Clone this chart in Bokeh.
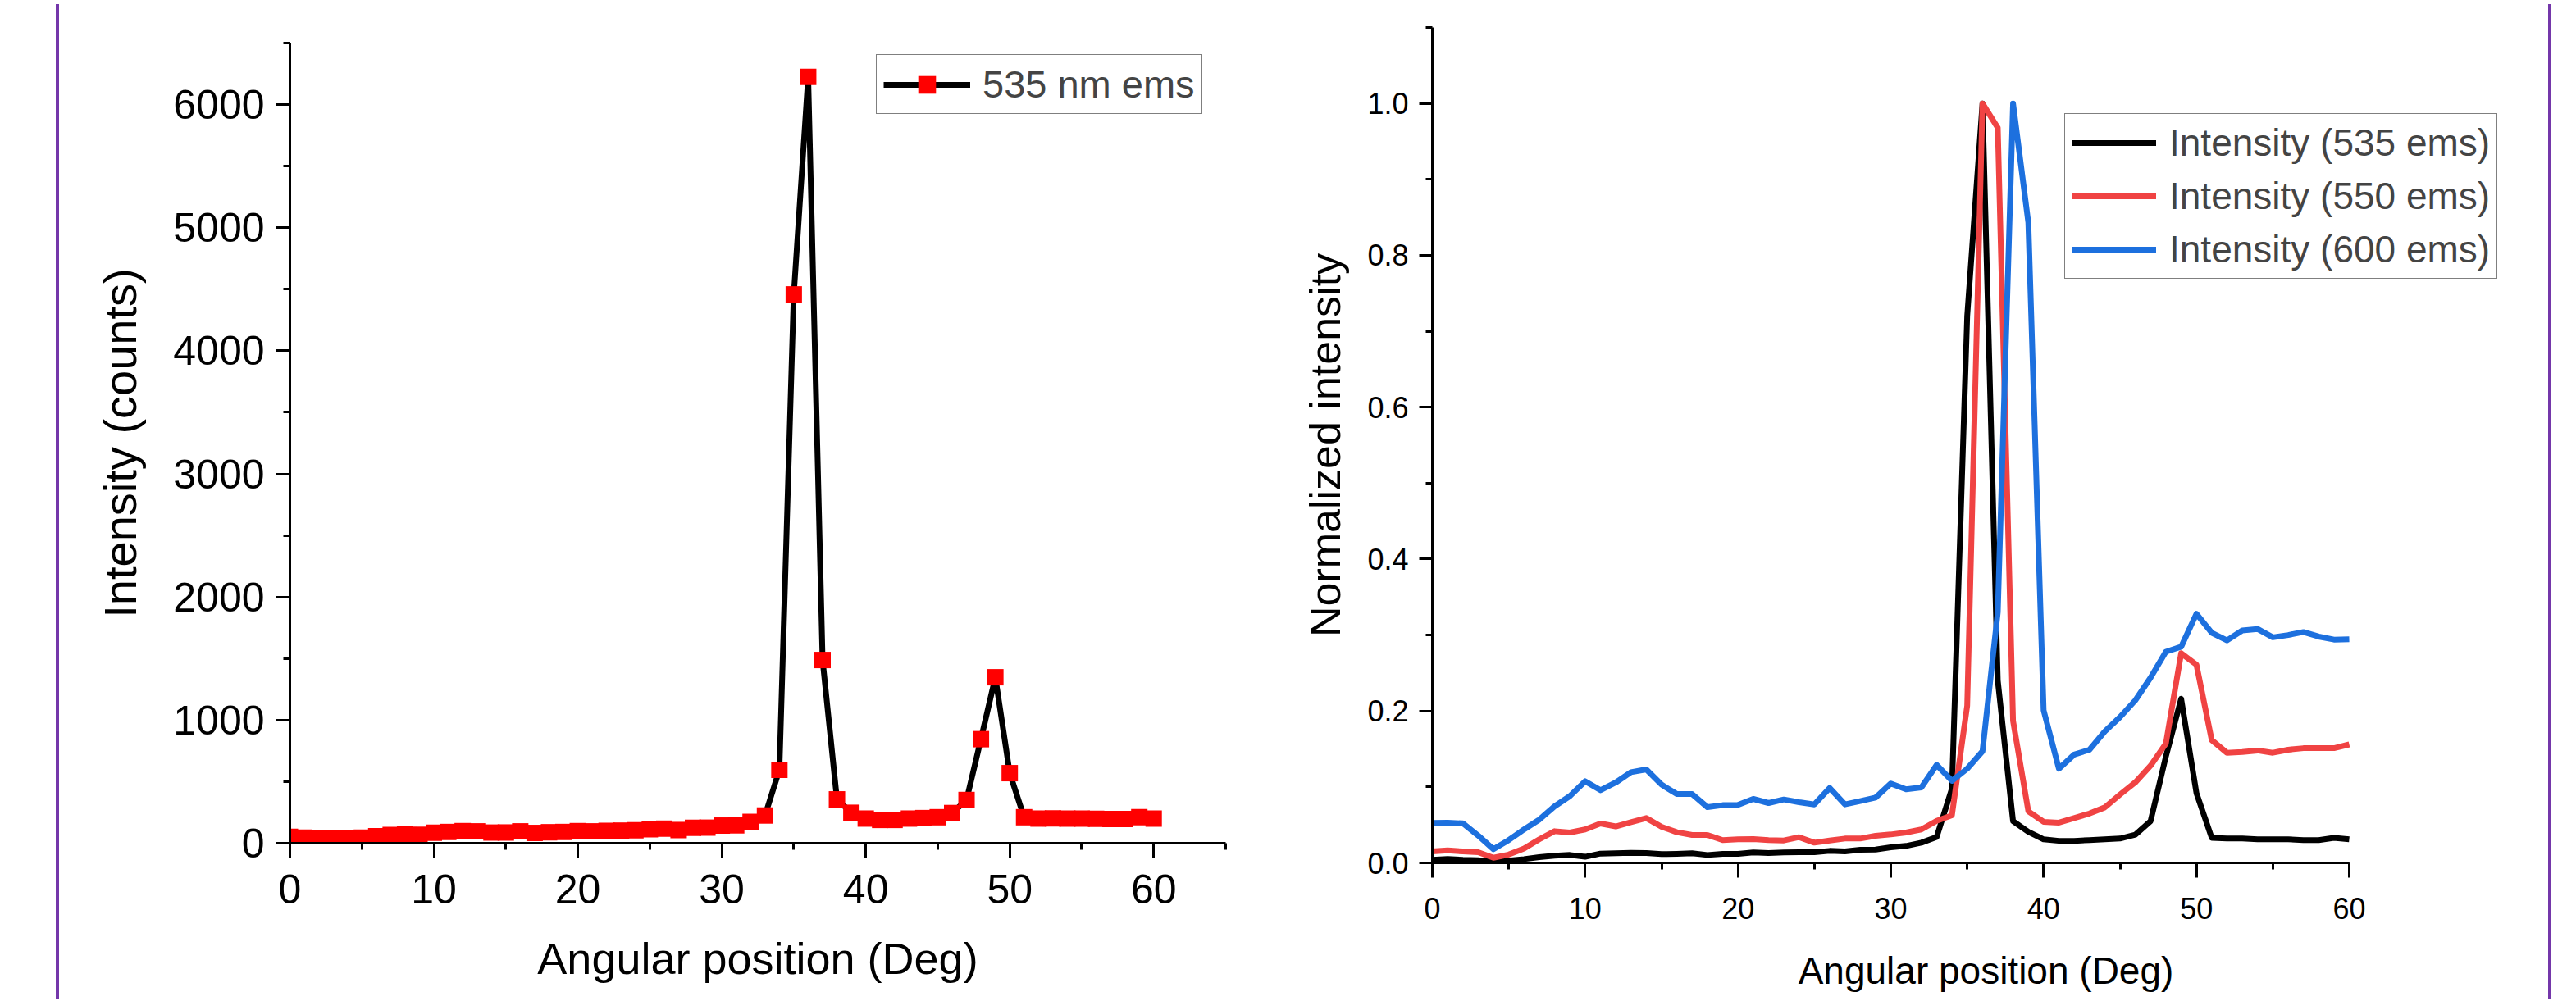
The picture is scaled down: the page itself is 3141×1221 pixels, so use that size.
from bokeh.plotting import figure
from bokeh.models import (Legend, LegendItem, SingleIntervalTicker, NumeralTickFormatter,
                          Range1d, Div, Spacer)
from bokeh.layouts import row, column
from bokeh.embed import file_html
from bokeh.resources import INLINE

FONT = "Liberation Sans"
PURPLE = "#7437aa"

# ---------------- data ----------------
angle = list(range(0, 61))

counts_535 = [51, 45, 38, 40, 42, 45, 56, 67, 76, 68,
              85, 91, 98, 96, 86, 87, 96, 83, 89, 91,
              98, 96, 100, 102, 105, 113, 118, 107, 125, 126,
              143, 145, 173, 225, 596, 4458, 6225, 1488, 356, 247,
              200, 189, 189, 200, 204, 211, 245, 351, 845, 1348,
              569, 211, 200, 202, 200, 200, 198, 196, 196, 211, 200]

norm_535 = [0.004, 0.005, 0.004, 0.0036, 0.001, 0.003, 0.005, 0.0076, 0.0094, 0.0104,
            0.008, 0.0122, 0.0126, 0.0133, 0.013, 0.0115, 0.0119, 0.0126, 0.0104, 0.0119,
            0.0119, 0.0137, 0.013, 0.0137, 0.014, 0.014, 0.0158, 0.0151, 0.0173, 0.0176,
            0.0205, 0.0223, 0.0266, 0.034, 0.098, 0.72, 1.0, 0.24, 0.055, 0.041,
            0.031, 0.029, 0.029, 0.030, 0.031, 0.032, 0.037, 0.055, 0.14, 0.216,
            0.092, 0.033, 0.032, 0.032, 0.031, 0.031, 0.031, 0.030, 0.030, 0.033, 0.031]

norm_550 = [0.0151, 0.0165, 0.015, 0.014, 0.0068, 0.011, 0.019, 0.031, 0.0417, 0.040,
            0.044, 0.0518, 0.048, 0.0536, 0.059, 0.0475, 0.0403, 0.0367, 0.0367, 0.030,
            0.031, 0.0313, 0.030, 0.0295, 0.0338, 0.0266, 0.0295, 0.032, 0.032, 0.0356,
            0.0374, 0.040, 0.044, 0.0554, 0.0626, 0.207, 1.0, 0.968, 0.187, 0.068,
            0.054, 0.053, 0.059, 0.065, 0.073, 0.09, 0.106, 0.128, 0.157, 0.276,
            0.261, 0.1616, 0.145, 0.146, 0.148, 0.145, 0.149, 0.151, 0.151, 0.151, 0.156]

norm_600 = [0.0525, 0.053, 0.052, 0.036, 0.018, 0.030, 0.044, 0.057, 0.0745, 0.088,
            0.1075, 0.0957, 0.1058, 0.1194, 0.123, 0.103, 0.0906, 0.0906, 0.0734, 0.076,
            0.0763, 0.0842, 0.0788, 0.0835, 0.0799, 0.077, 0.0986, 0.077, 0.0813, 0.086,
            0.1045, 0.0968, 0.0994, 0.129, 0.108, 0.124, 0.147, 0.33, 1.0, 0.843,
            0.201, 0.124, 0.1426, 0.149, 0.173, 0.192, 0.214, 0.244, 0.278, 0.2845,
            0.328, 0.303, 0.293, 0.306, 0.308, 0.297, 0.300, 0.304, 0.298, 0.294, 0.2945]

left_legend = "535 nm ems"
right_labels = ["Intensity (535 ems)", "Intensity (550 ems)", "Intensity (600 ems)"]
right_colors = ["#000000", "#f04343", "#1d70de"]
x_title = "Angular position (Deg)"

H = 1213


def style_axis(ax, tick_size, label_size, label_standoff, axis_standoff, tick_out):
    ax.axis_line_width = 3
    ax.axis_line_color = "black"
    ax.major_tick_line_width = 3
    ax.minor_tick_line_width = 3
    ax.major_tick_line_color = "black"
    ax.minor_tick_line_color = "black"
    ax.major_tick_in = 0
    ax.major_tick_out = tick_out
    ax.minor_tick_in = 0
    ax.minor_tick_out = 8
    ax.major_label_text_font = FONT
    ax.major_label_text_font_size = tick_size
    ax.major_label_text_color = "black"
    ax.major_label_standoff = label_standoff
    ax.axis_label_text_font = FONT
    ax.axis_label_text_font_size = label_size
    ax.axis_label_text_font_style = "normal"
    ax.axis_label_text_color = "black"
    ax.axis_label_standoff = axis_standoff


# ---------------- left panel ----------------
p1 = figure(width=1485, height=H, x_range=Range1d(0, 65), y_range=Range1d(0, 6500),
            output_backend="svg", toolbar_location=None,
            min_border_left=276, min_border_right=68, min_border_top=52, min_border_bottom=H - 1028,
            x_axis_label=x_title, y_axis_label="Intensity (counts)")
p1.xgrid.visible = False
p1.ygrid.visible = False
p1.outline_line_color = None
p1.xaxis.ticker = SingleIntervalTicker(interval=10, num_minor_ticks=2)
p1.yaxis.ticker = SingleIntervalTicker(interval=1000, num_minor_ticks=2)
p1.yaxis.formatter = NumeralTickFormatter(format="0")
style_axis(p1.xaxis[0], "50px", "54px", 20, 34, 18)
style_axis(p1.yaxis[0], "50px", "56px", 14, 30, 17)

l1 = p1.line(angle, counts_535, line_color="black", line_width=7)
s1 = p1.scatter(angle, counts_535, marker="square", size=20, fill_color="#ff0000",
                line_color="#ff0000", line_width=0)
leg1 = Legend(items=[LegendItem(label=left_legend, renderers=[l1, s1])],
              location=(715, 889), glyph_width=106, glyph_height=54, label_height=54,
              label_standoff=15, padding=8, margin=0, spacing=0,
              border_line_color="black", border_line_width=1.5,
              label_text_font=FONT, label_text_font_size="47px",
              background_fill_color="white", background_fill_alpha=1)
p1.add_layout(leg1)

# ---------------- right panel ----------------
# frame runs past x = 60 so the legend can overhang; the axis itself stops at 60
p2 = figure(width=1540, height=H, x_range=Range1d(0, 72.45), y_range=Range1d(0, 1.1),
            output_backend="svg", toolbar_location=None,
            min_border_left=184, min_border_right=6, min_border_top=33, min_border_bottom=H - 1052,
            x_axis_label=x_title, y_axis_label="Normalized intensity")
p2.xgrid.visible = False
p2.ygrid.visible = False
p2.outline_line_color = None
p2.xaxis.ticker = SingleIntervalTicker(interval=10, num_minor_ticks=2)
p2.xaxis.bounds = (0, 60)
p2.yaxis.ticker = SingleIntervalTicker(interval=0.2, num_minor_ticks=2)
p2.yaxis.formatter = NumeralTickFormatter(format="0.0")
style_axis(p2.xaxis[0], "36px", "46px", 24, 34, 18)
style_axis(p2.yaxis[0], "36px", "52px", 13, 19, 16)

items = []
for series, lab, col in zip([norm_535, norm_550, norm_600], right_labels, right_colors):
    r = p2.line(angle, series, line_color=col, line_width=7, line_join="round")
    items.append(LegendItem(label=lab, renderers=[r]))

leg2 = Legend(items=items, location=(771, 712), glyph_width=103, glyph_height=54,
              label_height=54, label_standoff=16, padding=8, margin=0, spacing=11,
              border_line_color="black", border_line_width=1.5,
              label_text_font=FONT, label_text_font_size="46px",
              background_fill_color="white", background_fill_alpha=1)
p2.add_layout(leg2)

# ---------------- frame lines ----------------
left_pad = Spacer(width=63, height=H)
bar_left = Div(text="", width=4, height=H, styles={"background-color": PURPLE})
bar_right = Div(text="", width=4, height=H, styles={"background-color": PURPLE})

layout = row(left_pad, bar_left, column(p1), column(p2), bar_right, spacing=0)

open("out.html", "w").write(file_html(layout, INLINE))
